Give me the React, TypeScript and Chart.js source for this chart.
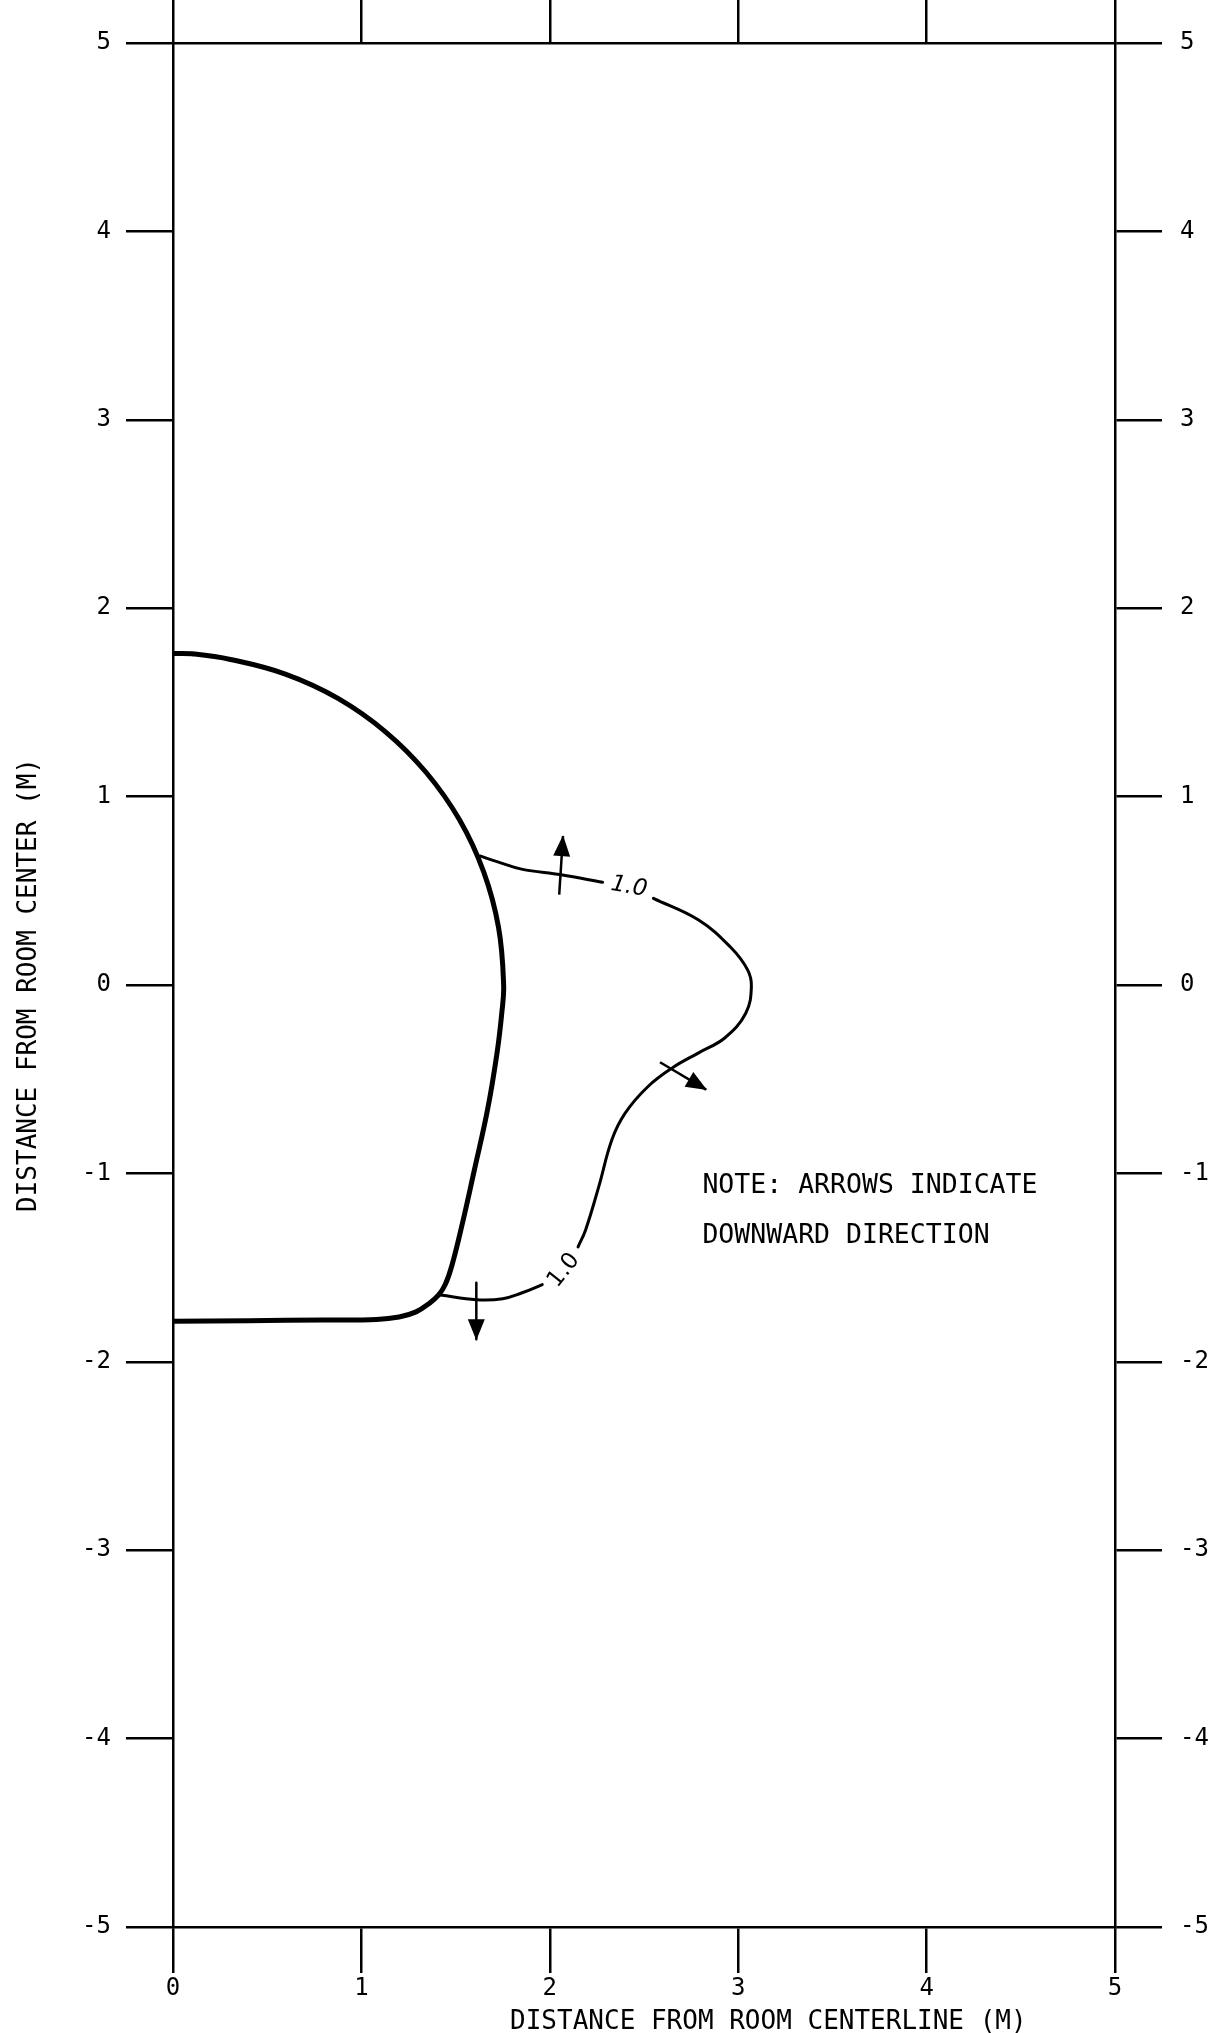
import React, { useEffect, useRef } from "react";
import { Chart, registerables } from "chart.js";

Chart.register(...registerables);

// ---------- data ----------
const X_MIN = 0;
const X_MAX = 5;
const Y_MIN = -5;
const Y_MAX = 5;
const TICK_STEP = 1;

const X_TITLE = "DISTANCE FROM ROOM CENTERLINE (M)";
const Y_TITLE = "DISTANCE FROM ROOM CENTER (M)";
const NOTE_LINES = ["NOTE: ARROWS INDICATE", "DOWNWARD DIRECTION"];
const NOTE_X = 2.81;
const NOTE_Y = [-1.07, -1.335];

// thick boundary curve (round upper part, straight-ish lower flank, flat bottom)
const boundaryX = [0, 0.1, 0.305, 0.6, 0.878, 1.128, 1.344, 1.52, 1.649, 1.728, 1.755, 1.745, 1.72, 1.67, 1.6, 1.535, 1.48, 1.445, 1.41, 1.36, 1.29, 1.2, 1.08, 0.8, 0.4, 0];
const boundaryY = [1.76, 1.758, 1.728, 1.649, 1.52, 1.344, 1.128, 0.878, 0.6, 0.305, 0.0, -0.15, -0.36, -0.66, -0.98, -1.27, -1.49, -1.59, -1.645, -1.69, -1.735, -1.762, -1.775, -1.778, -1.782, -1.785];

// 1.0 contour, split at its two labels
const contourAX = [1.63, 1.72, 1.85, 2.06, 2.28];
const contourAY = [0.685, 0.655, 0.615, 0.585, 0.545];
const contourBX = [2.55, 2.79, 2.96, 3.05, 3.07, 3.04, 2.93, 2.79, 2.65, 2.52, 2.4, 2.33, 2.26, 2.19, 2.15];
const contourBY = [0.46, 0.345, 0.2, 0.08, -0.01, -0.15, -0.28, -0.36, -0.44, -0.54, -0.68, -0.82, -1.07, -1.3, -1.39];
const contourCX = [1.96, 1.85, 1.75, 1.61, 1.42];
const contourCY = [-1.59, -1.635, -1.665, -1.67, -1.645];

const contourLabels = ["1.0", "1.0"];
const contourLabelX = [2.42, 2.075];
const contourLabelY = [0.52, -1.515];
const contourLabelAngle = [10, -52];
const contourLabelItalic = [true, false];

// arrows (tail -> tip)
const arrowUpX = [2.05, 2.07];
const arrowUpY = [0.48, 0.79];
const arrowRightX = [2.585, 2.83];
const arrowRightY = [-0.41, -0.555];
const arrowDownX = [1.61, 1.61];
const arrowDownY = [-1.58, -1.88];

// ---------- styling ----------
const INK = "#000000";
const MONO = '"DejaVu Sans Mono", "Liberation Mono", monospace';
const SANS = '"DejaVu Sans", "Liberation Sans", sans-serif';
const HEAD_LEN = 20;
const HEAD_W = 17;

const pts = (xs: number[], ys: number[]) => xs.map((x, i) => ({ x, y: ys[i] }));

const annotationPlugin = {
  id: "annotations",
  afterDatasetsDraw(chart: any) {
    const { ctx, scales } = chart;
    const xs = scales.x;
    const ys = scales.y;

    // arrowheads
    chart.data.datasets.forEach((ds: any, i: number) => {
      if (!ds.arrow) return;
      const meta = chart.getDatasetMeta(i);
      const p = meta.data;
      const a = p[p.length - 2];
      const b = p[p.length - 1];
      const ang = Math.atan2(b.y - a.y, b.x - a.x);
      ctx.save();
      ctx.translate(b.x, b.y);
      ctx.rotate(ang);
      ctx.beginPath();
      ctx.moveTo(1, 0);
      ctx.lineTo(-HEAD_LEN, -HEAD_W / 2);
      ctx.lineTo(-HEAD_LEN, HEAD_W / 2);
      ctx.closePath();
      ctx.fillStyle = INK;
      ctx.fill();
      ctx.restore();
    });

    // contour labels
    contourLabels.forEach((t, i) => {
      const px = xs.getPixelForValue(contourLabelX[i]);
      const py = ys.getPixelForValue(contourLabelY[i]);
      ctx.save();
      ctx.translate(px, py);
      ctx.rotate((contourLabelAngle[i] * Math.PI) / 180);
      ctx.font = `${contourLabelItalic[i] ? "italic " : ""}23px ${SANS}`;
      ctx.fillStyle = INK;
      ctx.textAlign = "center";
      ctx.textBaseline = "middle";
      ctx.fillText(t, 0, 0);
      ctx.restore();
    });

    // note
    ctx.save();
    ctx.font = `26.5px ${MONO}`;
    ctx.fillStyle = INK;
    ctx.textAlign = "left";
    ctx.textBaseline = "middle";
    NOTE_LINES.forEach((t, i) => {
      ctx.fillText(t, xs.getPixelForValue(NOTE_X), ys.getPixelForValue(NOTE_Y[i]));
    });
    ctx.restore();

    // x axis title (offset right of centre, as in the original)
    ctx.save();
    ctx.font = `26px ${MONO}`;
    ctx.fillStyle = INK;
    ctx.textAlign = "center";
    ctx.textBaseline = "middle";
    ctx.fillText(X_TITLE, xs.getPixelForValue(3.16), chart.height - 11);
    ctx.restore();
  },
};

export default function App() {
  const ref = useRef<HTMLCanvasElement | null>(null);

  useEffect(() => {
    if (!ref.current) return;
    const lineDs = (xs: number[], ys: number[], w: number, extra: any = {}) => ({
      data: pts(xs, ys),
      showLine: true,
      borderColor: INK,
      backgroundColor: INK,
      borderWidth: w,
      pointRadius: 0,
      pointHoverRadius: 0,
      tension: 0.4,
      fill: false,
      borderCapStyle: "round",
      borderJoinStyle: "round",
      ...extra,
    });

    const grid = (len: number) => ({
      drawOnChartArea: false,
      drawTicks: true,
      tickLength: len,
      color: INK,
      lineWidth: 2.5,
    });
    const border = { display: true, color: INK, width: 2.5 };
    const tickFont = { family: MONO, size: 24 };

    const chart = new Chart(ref.current, {
      type: "scatter",
      data: {
        datasets: [
          lineDs(boundaryX, boundaryY, 5),
          lineDs(contourAX, contourAY, 3),
          lineDs(contourBX, contourBY, 3),
          lineDs(contourCX, contourCY, 3),
          lineDs(arrowUpX, arrowUpY, 2.5, { tension: 0, arrow: true, borderCapStyle: "butt" }),
          lineDs(arrowRightX, arrowRightY, 2.5, { tension: 0, arrow: true, borderCapStyle: "butt" }),
          lineDs(arrowDownX, arrowDownY, 2.5, { tension: 0, arrow: true, borderCapStyle: "butt" }),
        ] as any,
      },
      options: {
        responsive: false,
        animation: false,
        events: [],
        layout: { padding: 0 },
        plugins: {
          legend: { display: false },
          tooltip: { enabled: false },
          title: { display: false },
        },
        scales: {
          x: {
            type: "linear",
            position: "bottom",
            min: X_MIN,
            max: X_MAX,
            afterFit: (s: any) => {
              s.height = 106;
            },
            ticks: { stepSize: TICK_STEP, padding: 1, font: tickFont, color: INK, maxRotation: 0, autoSkip: false },
            grid: grid(46),
            border,
          },
          x2: {
            type: "linear",
            position: "top",
            min: X_MIN,
            max: X_MAX,
            afterFit: (s: any) => {
              s.height = 43;
            },
            ticks: { stepSize: TICK_STEP, display: false },
            grid: grid(43),
            border,
          },
          y: {
            type: "linear",
            position: "left",
            min: Y_MIN,
            max: Y_MAX,
            afterFit: (s: any) => {
              s.width = 173;
            },
            ticks: { stepSize: TICK_STEP, padding: 15, font: tickFont, color: INK, autoSkip: false },
            grid: grid(47),
            border,
            title: {
              display: true,
              text: Y_TITLE,
              color: INK,
              font: { family: MONO, size: 26 },
              padding: { top: 14, bottom: 0 },
            },
          },
          y2: {
            type: "linear",
            position: "right",
            min: Y_MIN,
            max: Y_MAX,
            afterFit: (s: any) => {
              s.width = 101;
            },
            ticks: { stepSize: TICK_STEP, padding: 18, font: tickFont, color: INK, autoSkip: false },
            grid: grid(47),
            border,
          },
        },
      } as any,
      plugins: [annotationPlugin],
    });
    return () => chart.destroy();
  }, []);

  return (
    <div style={{ position: "absolute", left: 0, top: 0, width: 1216, height: 2033, background: "#fff" }}>
      <canvas ref={ref} width={1216} height={2033} style={{ width: 1216, height: 2033, display: "block" }} />
    </div>
  );
}
